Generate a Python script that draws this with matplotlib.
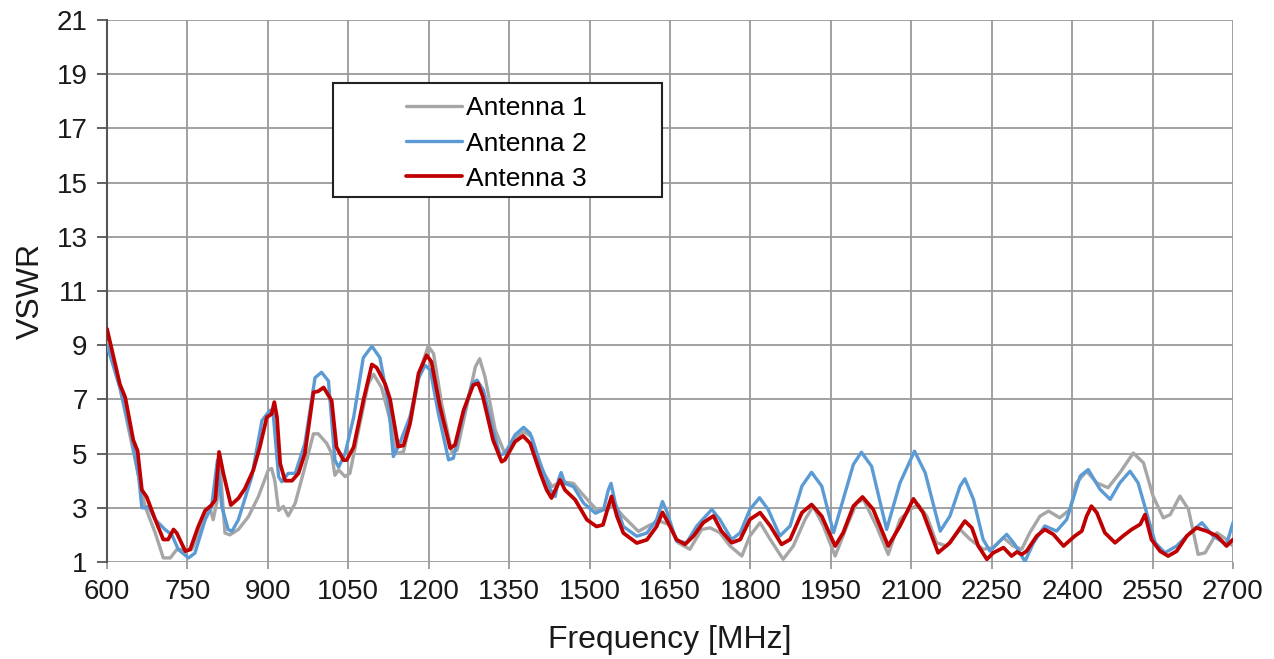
import matplotlib.pyplot as plt
from matplotlib.patches import Rectangle

# VSWR vs frequency, three antennas (values read point by point)
freq_a1 = [600, 624, 646, 659, 671, 690, 705, 718, 730, 746, 758, 777, 792, 798, 805, 811, 820, 829, 845, 864,
           882, 901, 907, 913, 920, 929, 938, 951, 969, 985, 994, 1010, 1019, 1025, 1032, 1044, 1053, 1069, 1087, 1097,
           1112, 1131, 1140, 1153, 1168, 1184, 1199, 1209, 1224, 1243, 1253, 1268, 1287, 1295, 1305, 1324, 1342, 1358, 1377, 1392,
           1411, 1430, 1445, 1470, 1485, 1513, 1532, 1545, 1563, 1591, 1613, 1632, 1650, 1665, 1687, 1709, 1725, 1743, 1762, 1784,
           1799, 1818, 1837, 1861, 1880, 1902, 1917, 1936, 1958, 1980, 1998, 2011, 2035, 2057, 2079, 2098, 2113, 2129, 2147, 2166,
           2191, 2210, 2234, 2253, 2272, 2290, 2306, 2321, 2340, 2356, 2377, 2396, 2408, 2427, 2446, 2467, 2489, 2514, 2533, 2551,
           2570, 2583, 2601, 2617, 2635, 2648, 2670, 2688, 2700]
vswr_a1 = [9.1, 7.44, 5.37, 4.15, 3.05, 2.07, 1.15, 1.15, 1.46, 1.46, 1.46, 2.3, 3.0, 2.56, 3.23, 4.5, 2.07, 2.0, 2.2, 2.68,
           3.4, 4.4, 4.45, 4.0, 2.9, 3.05, 2.7, 3.17, 4.5, 5.73, 5.73, 5.37, 5.0, 4.2, 4.4, 4.15, 4.27, 5.85, 7.56, 7.93,
           7.44, 6.0, 5.0, 5.07, 6.36, 8.08, 8.96, 8.69, 6.85, 5.07, 5.13, 6.48, 8.2, 8.5, 7.83, 5.87, 5.0, 5.5, 5.81, 5.63,
           4.4, 3.78, 3.97, 3.9, 3.54, 2.93, 2.93, 3.1, 2.68, 2.13, 2.37, 2.5, 2.37, 1.71, 1.47, 2.2, 2.26, 2.08, 1.59, 1.22,
           1.96, 2.45, 1.83, 1.1, 1.59, 2.57, 3.06, 2.33, 1.22, 2.33, 3.18, 3.3, 2.33, 1.28, 2.57, 2.94, 3.12, 2.69, 1.71, 1.59,
           2.2, 1.83, 1.47, 1.53, 1.9, 1.59, 1.47, 2.08, 2.69, 2.88, 2.63, 2.94, 3.92, 4.35, 3.92, 3.74, 4.29, 5.02, 4.66, 3.43,
           2.63, 2.75, 3.43, 2.94, 1.28, 1.34, 2.08, 1.83, 1.59]

freq_a2 = [600, 624, 646, 659, 665, 671, 677, 690, 708, 721, 733, 752, 764, 783, 795, 806, 814, 826, 833, 845,
           870, 889, 904, 910, 920, 926, 938, 951, 969, 988, 1000, 1013, 1025, 1032, 1044, 1060, 1078, 1094, 1109, 1125,
           1134, 1146, 1165, 1181, 1193, 1203, 1218, 1237, 1246, 1262, 1281, 1290, 1302, 1318, 1333, 1342, 1361, 1377, 1389, 1408,
           1427, 1436, 1442, 1447, 1454, 1470, 1489, 1511, 1526, 1535, 1540, 1548, 1563, 1588, 1607, 1625, 1636, 1644, 1662, 1681,
           1700, 1728, 1743, 1765, 1781, 1799, 1817, 1833, 1855, 1874, 1896, 1914, 1933, 1955, 1973, 1992, 2007, 2026, 2054, 2079,
           2106, 2126, 2154, 2172, 2191, 2200, 2216, 2234, 2247, 2262, 2278, 2293, 2312, 2328, 2349, 2371, 2390, 2415, 2430, 2452,
           2471, 2489, 2508, 2523, 2539, 2555, 2573, 2595, 2620, 2642, 2663, 2688, 2700]
vswr_a2 = [9.0, 7.44, 5.6, 4.15, 3.0, 3.0, 3.05, 2.56, 2.2, 2.0, 1.46, 1.15, 1.33, 2.56, 3.05, 4.76, 3.05, 2.2, 2.13, 2.56,
           4.15, 6.22, 6.6, 6.46, 4.15, 3.96, 4.27, 4.27, 5.37, 7.8, 8.0, 7.68, 4.76, 4.5, 5.0, 6.34, 8.54, 8.96, 8.54, 6.83,
           4.89, 5.38, 6.36, 7.77, 8.26, 8.08, 6.48, 4.77, 4.83, 6.24, 7.59, 7.71, 7.34, 6.0, 4.95, 5.0, 5.69, 5.97, 5.75, 4.64,
           3.66, 3.42, 4.03, 4.3, 3.9, 3.78, 3.17, 2.8, 2.93, 3.66, 3.9, 3.17, 2.31, 1.95, 2.07, 2.56, 3.23, 2.87, 1.77, 1.71,
           2.33, 2.94, 2.57, 1.83, 2.08, 2.94, 3.37, 2.94, 1.96, 2.33, 3.8, 4.31, 3.8, 2.08, 3.31, 4.6, 5.05, 4.53, 2.2, 3.92,
           5.09, 4.29, 2.14, 2.69, 3.8, 4.07, 3.31, 1.83, 1.4, 1.71, 2.02, 1.65, 1.02, 1.71, 2.33, 2.14, 2.57, 4.17, 4.41, 3.68,
           3.31, 3.92, 4.35, 3.92, 2.82, 1.71, 1.34, 1.59, 2.08, 2.45, 1.96, 1.65, 2.45]

freq_a3 = [600, 624, 634, 649, 657, 665, 674, 690, 705, 714, 724, 730, 746, 755, 770, 783, 795, 802, 809, 817,
           831, 845, 857, 873, 885, 898, 907, 912, 917, 923, 932, 945, 957, 969, 985, 994, 1004, 1019, 1028, 1041,
           1047, 1060, 1078, 1094, 1103, 1119, 1128, 1143, 1153, 1165, 1181, 1196, 1205, 1221, 1240, 1249, 1265, 1283, 1292, 1301,
           1320, 1336, 1342, 1361, 1376, 1389, 1408, 1420, 1429, 1439, 1445, 1454, 1473, 1495, 1513, 1525, 1535, 1541, 1551, 1563,
           1588, 1607, 1625, 1636, 1647, 1662, 1678, 1694, 1712, 1731, 1746, 1765, 1781, 1799, 1818, 1837, 1858, 1874, 1896, 1914,
           1933, 1958, 1973, 1992, 2009, 2029, 2057, 2079, 2104, 2122, 2150, 2172, 2185, 2200, 2213, 2225, 2241, 2253, 2272, 2287,
           2297, 2306, 2315, 2334, 2349, 2365, 2384, 2405, 2418, 2427, 2436, 2446, 2461, 2480, 2495, 2511, 2527, 2536, 2548, 2564,
           2579, 2595, 2614, 2632, 2651, 2670, 2688, 2700]
vswr_a3 = [9.6, 7.56, 7.07, 5.5, 5.1, 3.66, 3.4, 2.56, 1.83, 1.83, 2.2, 2.07, 1.4, 1.46, 2.3, 2.9, 3.1, 3.3, 5.06, 4.27,
           3.1, 3.35, 3.7, 4.4, 5.24, 6.34, 6.46, 6.9, 6.34, 4.63, 4.0, 4.0, 4.27, 5.0, 7.26, 7.3, 7.44, 6.95, 5.24, 4.76,
           4.76, 5.24, 6.95, 8.29, 8.17, 7.56, 7.0, 5.26, 5.3, 6.1, 7.96, 8.63, 8.39, 6.73, 5.2, 5.32, 6.6, 7.53, 7.59, 7.1,
           5.5, 4.7, 4.77, 5.44, 5.65, 5.38, 4.28, 3.66, 3.36, 3.78, 4.03, 3.66, 3.3, 2.56, 2.31, 2.37, 3.05, 3.42, 2.69, 2.07,
           1.7, 1.82, 2.31, 2.83, 2.43, 1.83, 1.65, 1.96, 2.45, 2.7, 2.14, 1.71, 1.83, 2.57, 2.82, 2.33, 1.65, 1.83, 2.82, 3.12,
           2.69, 1.59, 2.08, 3.06, 3.4, 2.94, 1.59, 2.33, 3.33, 2.82, 1.34, 1.71, 2.08, 2.51, 2.26, 1.59, 1.1, 1.34, 1.53, 1.22,
           1.37, 1.28, 1.4, 1.96, 2.2, 2.02, 1.59, 1.96, 2.14, 2.69, 3.06, 2.82, 2.08, 1.71, 1.96, 2.2, 2.39, 2.75, 1.83, 1.4,
           1.22, 1.4, 1.96, 2.26, 2.14, 1.96, 1.59, 1.83]

labels = ['Antenna 1', 'Antenna 2', 'Antenna 3']
colors = ['#a6a6a6', '#5b9bd5', '#c00000']

x_ticks = list(range(600, 2701, 150))
y_ticks = list(range(1, 22, 2))

plt.rcParams['font.family'] = ['Liberation Sans', 'DejaVu Sans']

fig = plt.figure(figsize=(12.74, 6.59), dpi=100)
ax = fig.add_axes([0.084, 0.1472, 0.8838, 0.8225])

series = [(freq_a1, vswr_a1), (freq_a2, vswr_a2), (freq_a3, vswr_a3)]
handles = []
for (f, v), lab, col, lw in zip(series, labels, colors, [2.4, 2.4, 2.7]):
    h, = ax.plot(f, v, color=col, lw=lw, label=lab, solid_joinstyle='round', solid_capstyle='round', zorder=3)
    handles.append(h)

ax.set_xlim(600, 2700)
ax.set_ylim(1, 21)
ax.set_xticks(x_ticks)
ax.set_yticks(y_ticks)
ax.grid(True, color='#9a9a9a', lw=1.3)
ax.set_axisbelow(True)

for side in ['top', 'right', 'bottom']:
    ax.spines[side].set_visible(False)
ax.spines['left'].set_color('#555555')
ax.spines['left'].set_linewidth(1.5)
ax.tick_params(axis='y', length=7, width=1.3, color='#555555', labelsize=20, pad=7, labelcolor='#1a1a1a')
ax.tick_params(axis='x', length=5, width=1.3, color='#9a9a9a', labelsize=20, pad=7, labelcolor='#1a1a1a')

ax.set_xlabel('Frequency [MHz]', fontsize=23, labelpad=15, color='#1a1a1a')
ax.set_ylabel('VSWR', fontsize=23, labelpad=8, color='#1a1a1a')

# legend box drawn separately so the handles can sit inset from its left edge
ax.add_patch(Rectangle((0.2007, 0.673), 0.2922, 0.211, transform=ax.transAxes,
                       facecolor='white', edgecolor='#222222', lw=1.5, zorder=4))
leg = ax.legend(handles=handles, loc='upper left', bbox_to_anchor=(0.2495, 0.893), frameon=False,
                fontsize=19, handlelength=2.1, handletextpad=0.15, labelspacing=0.42, borderpad=0.2)
leg.set_zorder(5)

fig.savefig('out.png', dpi=100)
